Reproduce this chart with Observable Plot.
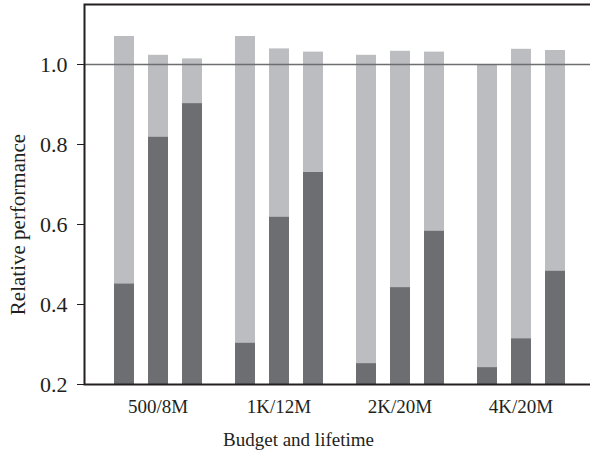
<!DOCTYPE html>
<html>
<head>
<meta charset="utf-8">
<script src="https://cdn.jsdelivr.net/npm/d3@7"></script>
<script src="https://cdn.jsdelivr.net/npm/@observablehq/plot@0.6"></script>
<style>
  html, body { margin: 0; padding: 0; background: #fff; overflow: hidden; }
  #chart { position: relative; width: 590px; height: 452px; overflow: hidden; }
  #chart svg { position: absolute; left: 0; top: 0; background: transparent !important; }
  #chart svg, #chart svg text { font-family: "Liberation Serif", "Times New Roman", Times, serif !important; }
</style>
</head>
<body>
<div id="chart"></div>
<script>
// Categories (x groups)
const groups = ["500/8M", "1K/12M", "2K/20M", "4K/20M"];
// Three bars per group; light segment top (total) and dark segment top
const bar1Total = [1.070, 1.070, 1.023, 1.000];
const bar2Total = [1.023, 1.039, 1.033, 1.038];
const bar3Total = [1.014, 1.031, 1.031, 1.035];
const bar1Dark  = [0.451, 0.303, 0.252, 0.242];
const bar2Dark  = [0.818, 0.618, 0.442, 0.314];
const bar3Dark  = [0.902, 0.730, 0.583, 0.483];
// Axis ticks, domain and reference line
const yTicks = [0.2, 0.4, 0.6, 0.8, 1.0];
const yDomain = [0.2, 1.15];
const refLine = [1.0];

const totals = [bar1Total, bar2Total, bar3Total];
const darks = [bar1Dark, bar2Dark, bar3Dark];
const rows = [];
groups.forEach((g, gi) => {
  for (let b = 0; b < 3; b++) {
    rows.push({group: g, bar: b, total: totals[b][gi], dark: darks[b][gi]});
  }
});

const font = "Liberation Serif, Times New Roman, Times, serif";
const ink = "#231f20";
const layout = {width: 590, height: 452, marginTop: 4, marginBottom: 68, marginLeft: 84, marginRight: 0};

// Layer 1: grouped bars and group labels (faceted by group)
const bars = Plot.plot({
  ...layout,
  style: {background: "transparent"},
  fx: {domain: groups, range: [84, 590], paddingInner: 0, paddingOuter: 0.0738, align: 0.611, label: null},
  x: {domain: [0, 1, 2], range: [101, 189], paddingInner: 14 / 34, paddingOuter: 0, axis: null},
  y: {domain: yDomain, axis: null},
  marks: [
    Plot.barY(rows, {fx: "group", x: "bar", y1: yDomain[0], y2: "total", fill: "#bcbdc0"}),
    Plot.barY(rows, {fx: "group", x: "bar", y1: yDomain[0], y2: "dark", fill: "#6d6e71"}),
    Plot.axisFx({anchor: "bottom", tickSize: 0, tickPadding: 15, fontSize: 19, fontFamily: font,
      label: null, fill: ink})
  ]
});

// Layer 2: frame, reference line, y axis and axis titles (same y scale)
const frame = Plot.plot({
  ...layout,
  style: {background: "transparent"},
  y: {domain: yDomain, axis: null},
  marks: [
    Plot.ruleY(refLine, {stroke: "#6d6e71", strokeWidth: 1.5}),
    Plot.frame({stroke: ink, strokeWidth: 2, insetRight: -4}),
    Plot.axisY({ticks: yTicks, tickFormat: ".1f", tickSize: 7, tickPadding: 10,
      fontSize: 22, fontFamily: font, label: null, stroke: ink, fill: ink}),
    Plot.text(["Relative performance"], {frameAnchor: "left", dx: -66, dy: 30, rotate: -90,
      textAnchor: "middle", lineAnchor: "middle", fontSize: 21, fontFamily: font, fill: ink, text: d => d}),
    Plot.text(["Budget and lifetime"], {frameAnchor: "bottom", dx: -39, dy: 55,
      textAnchor: "middle", lineAnchor: "middle", fontSize: 19, fontFamily: font, fill: ink, text: d => d})
  ]
});

const el = document.getElementById("chart");
el.appendChild(bars);
el.appendChild(frame);
</script>
</body>
</html>
